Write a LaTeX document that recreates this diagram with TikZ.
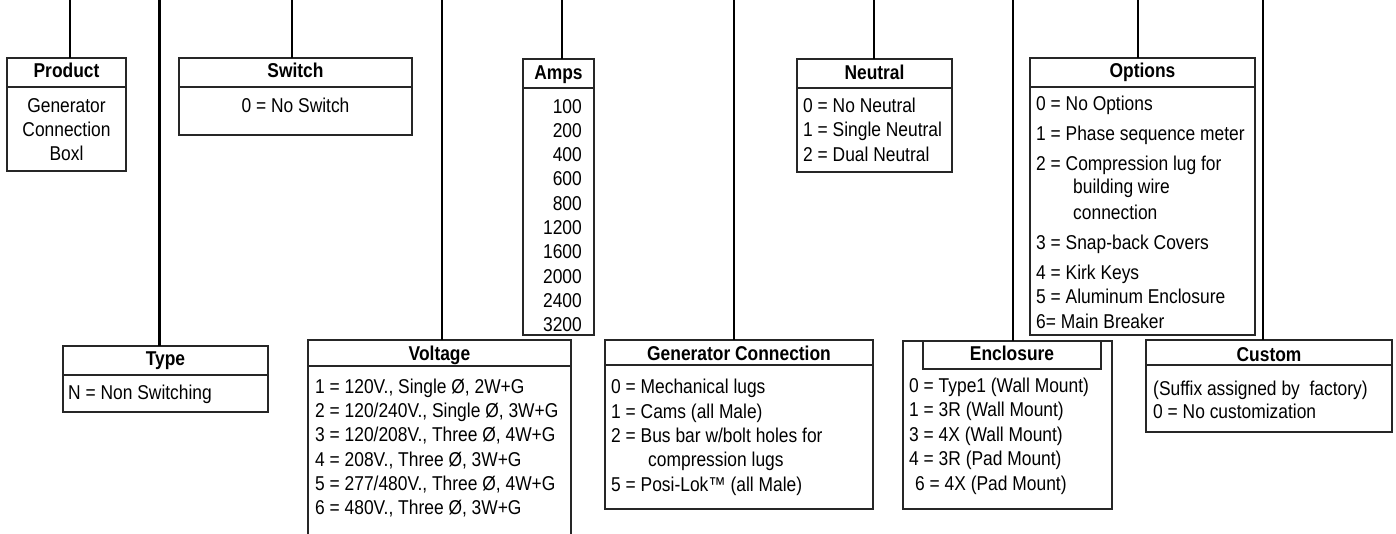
\documentclass[tikz,border=0pt]{standalone}
\usepackage{fontspec}
\setmainfont{Liberation Sans}[FakeStretch=0.87]
\usetikzlibrary{fit}
\begin{document}
\begin{tikzpicture}[x=1pt,y=-1pt,
  frame/.style={draw=black!85,line width=1.4pt,inner sep=0pt,outer sep=0pt,rectangle},
  divline/.style={draw=black!85,line width=1.4pt},
  wire/.style={line width=2.2pt,black},
  bigwire/.style={line width=2.8pt,black},
  hd/.style={anchor=base,inner sep=0pt,font=\fontsize{20}{24}\selectfont\bfseries},
  bt/.style={anchor=base west,inner sep=0pt,font=\fontsize{20}{24}\selectfont},
  ]
\useasboundingbox (0,0) rectangle (1396,533);
% top ends
\coordinate (t1) at (70,-3);
\coordinate (t2) at (159.5,-3);
\coordinate (t3) at (292,-3);
\coordinate (t4) at (442,-3);
\coordinate (t5) at (562,-3);
\coordinate (t6) at (734,-3);
\coordinate (t7) at (874,-3);
\coordinate (t8) at (1013,-3);
\coordinate (t9) at (1138,-3);
\coordinate (t10) at (1263,-3);

% Product
\node[frame, fit={(7,58)(126,171)}] (product) {};
\draw[divline] (7,87) -- (126,87);
\node[hd] (productT) at (66.5,77.3) {Product};
\foreach \yb/\tx [count=\i] in {112/Generator,136/Connection,160/Boxl}
  \node[bt,anchor=base] (product\i) at (66.5,\yb) {\tx};

% Switch
\node[frame, fit={(179,58)(412,135)}] (switch) {};
\draw[divline] (179,87) -- (412,87);
\node[hd] (switchT) at (295.5,77.3) {Switch};
\node[bt,anchor=base] (switch1) at (295.5,112) {0 = No Switch};

% Amps
\node[frame, fit={(523,59)(594,335)}] (amps) {};
\draw[divline] (523,88) -- (594,88);
\node[hd] (ampsT) at (558.5,79) {Amps};
\foreach \tx [count=\i from 0] in {100,200,400,600,800,1200,1600,2000,2400,3200}
  \node[bt,anchor=base east] (amps\i) at (582,113+24.3*\i) {\tx};

% Neutral
\node[frame, fit={(797,59)(952,172)}] (neutral) {};
\draw[divline] (797,88) -- (952,88);
\node[hd] (neutralT) at (874.5,79) {Neutral};
\foreach \yb/\tx [count=\i] in {112/{0 = No Neutral},136.5/{1 = Single Neutral},161/{2 = Dual Neutral}}
  \node[bt] (neutral\i) at (803,\yb) {\tx};

% Options
\node[frame, fit={(1030,58)(1255,335)}] (options) {};
\draw[divline] (1030,87) -- (1255,87);
\node[hd] (optionsT) at (1142.5,77.5) {Options};
\foreach \xx/\yb/\tx [count=\i] in {1036/110/{0 = No Options},1036/140/{1 = Phase sequence meter},
   1036/170/{2 = Compression lug for},1073/193.5/{building wire},1073/219/{connection},
   1036/249/{3 = Snap-back Covers},1036/279/{4 = Kirk Keys},1036/303/{5 = Aluminum Enclosure},
   1036/328/{6= Main Breaker}}
  \node[bt] (options\i) at (\xx,\yb) {\tx};

% Type
\node[frame, fit={(63,346)(268,412)}] (type) {};
\draw[divline] (63,375) -- (268,375);
\node[hd] (typeT) at (165.5,365.7) {Type};
\node[bt] (type1) at (68,399) {N = Non Switching};

% Voltage (runs off the bottom)
\coordinate (voltage) at (442,340);
\draw[divline] (308,540) -- (308,340) -- (571,340) -- (571,540);
\draw[divline] (308,366) -- (571,366);
\node[hd] (voltageT) at (439.5,360) {Voltage};
\foreach \tx [count=\i from 0] in {{1 = 120V., Single Ø, 2W+G},{2 = 120/240V., Single Ø, 3W+G},
   {3 = 120/208V., Three Ø, 4W+G},{4 = 208V., Three Ø, 3W+G},{5 = 277/480V., Three Ø, 4W+G},
   {6 = 480V., Three Ø, 3W+G}}
  \node[bt] (voltage\i) at (315,393.5+24.2*\i) {\tx};

% Generator Connection
\node[frame, fit={(605,340)(873,509)}] (genconn) {};
\draw[divline] (605,365) -- (873,365);
\node[hd] (genconnT) at (739,360) {Generator Connection};
\foreach \xx/\yb/\tx [count=\i] in {611/393.5/{0 = Mechanical lugs},611/418/{1 = Cams (all Male)},
   611/442/{2 = Bus bar w/bolt holes for},648/466/{compression lugs},611/491.5/{5 = Posi-Lok™ (all Male)}}
  \node[bt] (genconn\i) at (\xx,\yb) {\tx};

% Enclosure
\node[frame, fit={(903,341)(1112,509)}] (enclosure) {};
\node[frame, fit={(923,341)(1101,369)}] (enclosureH) {};
\node[hd] (enclosureT) at (1012,360) {Enclosure};
\foreach \xx/\yb/\tx [count=\i] in {909/392/{0 = Type1 (Wall Mount)},909/416.5/{1 = 3R (Wall Mount)},
   909/441/{3 = 4X (Wall Mount)},909/465/{4 = 3R (Pad Mount)},915/490/{6 = 4X (Pad Mount)}}
  \node[bt] (enclosure\i) at (\xx,\yb) {\tx};

% Custom
\node[frame, fit={(1146,340)(1392,432)}] (custom) {};
\draw[divline] (1146,365) -- (1392,365);
\node[hd] (customT) at (1269,361.5) {Custom};
\node[bt] (custom1) at (1153,395) {(Suffix assigned by~ factory)};
\node[bt] (custom2) at (1153,418.5) {0 = No customization};

% connectors
\draw[wire] (t1) -- (t1 |- product.north);
\draw[bigwire] (t2) -- (t2 |- type.north);
\draw[wire] (t3) -- (t3 |- switch.north);
\draw[bigwire] (t4) -- (voltage);
\draw[wire] (t5) -- (t5 |- amps.north);
\draw[bigwire] (t6) -- (t6 |- genconn.north);
\draw[wire] (t7) -- (t7 |- neutral.north);
\draw[bigwire] (t8) -- (t8 |- enclosure.north);
\draw[wire] (t9) -- (t9 |- options.north);
\draw[bigwire] (t10) -- (t10 |- custom.north);
\end{tikzpicture}
\end{document}
